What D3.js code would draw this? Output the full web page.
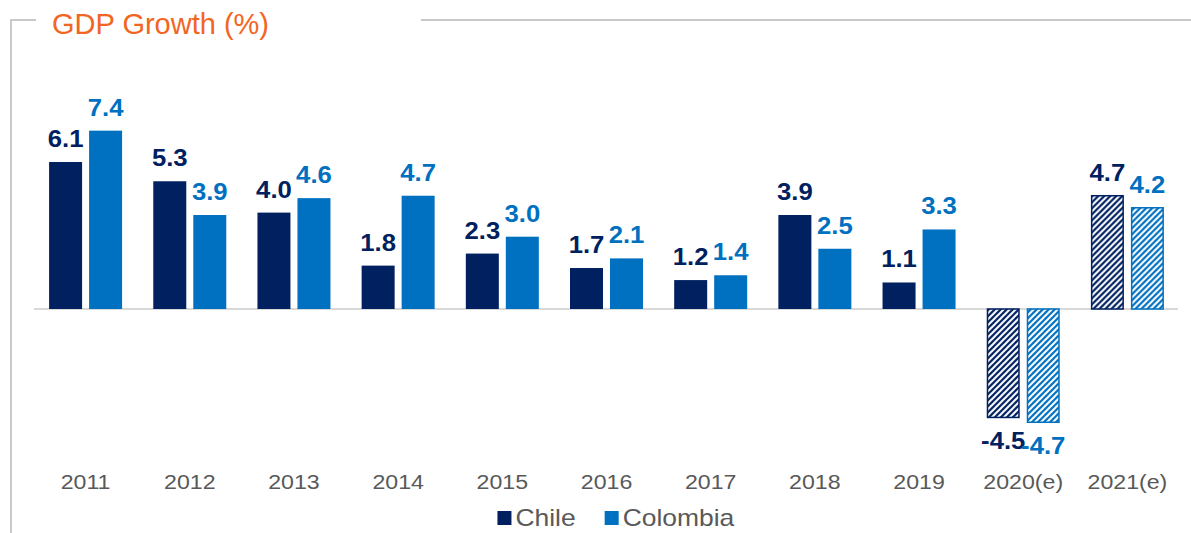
<!DOCTYPE html>
<html>
<head>
<meta charset="utf-8">
<script src="https://cdn.jsdelivr.net/npm/d3@7"></script>
<style>
  html, body { margin: 0; padding: 0; background: #fff; }
  svg { display: block; font-family: "Liberation Sans", Arial, sans-serif; }
</style>
</head>
<body>
<svg id="chart" width="1191" height="533"></svg>
<script>
// GDP growth, Chile vs Colombia (2020 and 2021 are estimates)
const years = ["2011", "2012", "2013", "2014", "2015", "2016", "2017", "2018", "2019", "2020(e)", "2021(e)"];
const series = ["Chile", "Colombia"];
const chile = [6.1, 5.3, 4.0, 1.8, 2.3, 1.7, 1.2, 3.9, 1.1, -4.5, 4.7];
const colombia = [7.4, 3.9, 4.6, 4.7, 3.0, 2.1, 1.4, 2.5, 3.3, -4.7, 4.2];
const estimated = ["2020(e)", "2021(e)"];
const colors = { Chile: "#002060", Colombia: "#0070C0" };

const rows = years.map((y, i) => ({ year: y, Chile: chile[i], Colombia: colombia[i] }));

const svg = d3.select("#chart");
const W = 1191, H = 533;
const textStretch = "scale(1.13,1)";

// hatch patterns for the estimated years
const defs = svg.append("defs");
series.forEach(s => {
  const p = defs.append("pattern")
    .attr("id", "hatch-" + s)
    .attr("patternUnits", "userSpaceOnUse")
    .attr("width", 6).attr("height", 6);
  p.append("rect").attr("width", 6).attr("height", 6).attr("fill", colors[s]);
  p.append("path")
    .attr("d", "M-1,1 l2,-2 M0,6 l6,-6 M5,7 l2,-2")
    .attr("stroke", "#fff").attr("stroke-width", 2);
});

// frame around the chart
const frame = "#c9c9c9";
svg.append("path")
  .attr("d", "M36,20 H11 V533")
  .attr("fill", "none").attr("stroke", frame).attr("stroke-width", 2);
svg.append("line")
  .attr("x1", 421).attr("x2", W).attr("y1", 20).attr("y2", 20)
  .attr("stroke", frame).attr("stroke-width", 2);

svg.append("text")
  .attr("x", 52).attr("y", 34)
  .attr("fill", "#F26522")
  .attr("font-size", 29)
  .text("GDP Growth (%)");

// scales
const x0 = d3.scaleBand().domain(years).range([33.5, 1179.5]).padding(0);
const x1 = d3.scaleBand().domain(series)
  .range([x0.bandwidth() / 2 - 36.5, x0.bandwidth() / 2 + 36.5])
  .paddingInner(0.175).paddingOuter(0);
const y = d3.scaleLinear().domain([-5, 8]).range([429.5, 116.2]);

// zero line
svg.append("line")
  .attr("x1", 34).attr("x2", 1178)
  .attr("y1", y(0)).attr("y2", y(0))
  .attr("stroke", "#d9d9d9").attr("stroke-width", 2);

// bars
const groups = svg.append("g").selectAll("g")
  .data(rows).join("g")
  .attr("transform", d => `translate(${x0(d.year)},0)`);

groups.selectAll("rect")
  .data(d => series.map(s => ({ s, v: d[s], est: estimated.includes(d.year) })))
  .join("rect")
  .attr("x", d => x1(d.s) + (d.est ? 0.75 : 0))
  .attr("width", d => x1.bandwidth() - (d.est ? 1.5 : 0))
  .attr("y", d => d.v >= 0 ? y(d.v) : y(0))
  .attr("height", d => Math.abs(y(d.v) - y(0)))
  .attr("fill", d => d.est ? `url(#hatch-${d.s})` : colors[d.s])
  .attr("stroke", d => d.est ? colors[d.s] : "none")
  .attr("stroke-width", 1.5);

// value labels
groups.selectAll("text")
  .data(d => series.map(s => ({ s, v: d[s] })))
  .join("text")
  .attr("transform", d => {
    const tx = x1(d.s) + x1.bandwidth() / 2;
    const ty = d.v >= 0 ? y(d.v) - 15 : y(d.v) + 32;
    return `translate(${tx},${ty}) scale(1.07,1)`;
  })
  .attr("text-anchor", "middle")
  .attr("font-size", 24)
  .attr("font-weight", "bold")
  .attr("fill", d => colors[d.s])
  .text(d => d.v.toFixed(1));

// category axis
const axis = svg.append("g")
  .attr("transform", "translate(0,474)")
  .call(d3.axisBottom(x0).tickSize(0).tickPadding(0));
axis.select(".domain").remove();
axis.selectAll("text")
  .attr("font-size", 20.5)
  .attr("font-family", "Liberation Sans, Arial, sans-serif")
  .attr("fill", "#595959")
  .attr("dy", "0.71em")
  .attr("transform", textStretch);

// legend
const legend = svg.append("g").attr("transform", "translate(0,518)");
const items = legend.selectAll("g").data(series).join("g");
items.append("rect")
  .attr("y", -7).attr("width", 14).attr("height", 14)
  .attr("fill", d => colors[d]);
items.append("text")
  .attr("transform", "translate(18,8) scale(1.15,1)")
  .attr("font-size", 23)
  .attr("fill", "#595959")
  .text(d => d);
let cx = 0;
const widths = [];
items.each(function () { widths.push(this.getBoundingClientRect().width); });
const gap = 29;
const totalW = d3.sum(widths) + gap * (series.length - 1);
cx = 616 - totalW / 2;
items.attr("transform", (d, i) => {
  const t = `translate(${cx},0)`;
  cx += widths[i] + gap;
  return t;
});
</script>
</body>
</html>
